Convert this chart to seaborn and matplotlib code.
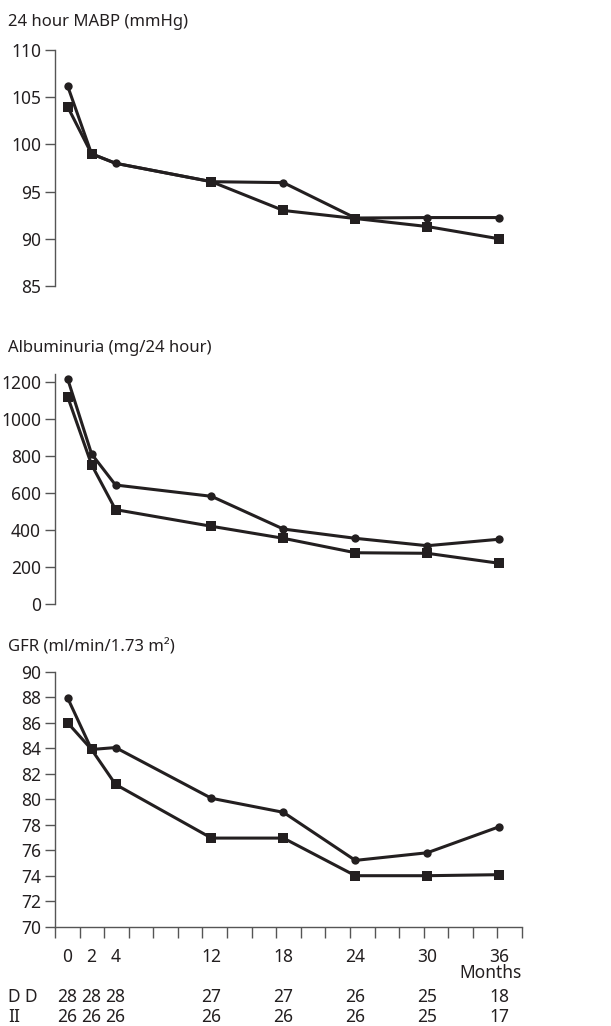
import pandas as pd
import seaborn as sns
from matplotlib import pyplot as plt
import numpy as np

sns.set_style("ticks")
plt.rcParams["font.family"] = ["Noto Sans", "DejaVu Sans"]

INK = "#231f20"

months = [0, 2, 4, 12, 18, 24, 30, 36]

# circles = DD, squares = II
mabp_dd = [106.2, 99.0, 98.0, 96.05, 95.95, 92.2, 92.25, 92.25]
mabp_ii = [104.0, 99.0, 98.0, 96.05, 93.0, 92.15, 91.3, 90.0]
alb_dd = [1218, 811, 643, 582, 405, 355, 315, 350]
alb_ii = [1121, 753, 510, 420, 355, 277, 274, 220]
gfr_dd = [87.95, 83.9, 84.05, 80.07, 78.97, 75.2, 75.8, 77.84]
gfr_ii = [86.0, 83.9, 81.16, 76.95, 76.95, 74.0, 74.0, 74.08]

n_dd = [28, 28, 28, 27, 27, 26, 25, 18]
n_ii = [26, 26, 26, 26, 26, 26, 25, 17]

titles = ["24 hour MABP (mmHg)", "Albuminuria (mg/24 hour)", "GFR (ml/min/1.73 m\u00b2)"]

def longform(dd, ii):
    rows = []
    for m, a, b in zip(months, dd, ii):
        rows.append((m, a, "DD"))
        rows.append((m, b, "II"))
    return pd.DataFrame(rows, columns=["month", "value", "grp"])

fig = plt.figure(figsize=(6.11, 10.26), dpi=100)
left, width = 55 / 611, 467 / 611
ax1 = fig.add_axes([left, 1 - 286 / 1026, width, 236 / 1026])
ax2 = fig.add_axes([left, 1 - 604 / 1026, width, 230 / 1026])
ax3 = fig.add_axes([left, 1 - 926.7 / 1026, width, 255 / 1026])

# in the MABP panel the II marker at month 4 is hidden under the DD one
all_idx = list(range(len(months)))
panels = [
    (ax1, longform(mabp_dd, mabp_ii), (85, 110), np.arange(85, 111, 5), [0, 1, 3, 4, 5, 6, 7]),
    (ax2, longform(alb_dd, alb_ii), (0, 1243), np.arange(0, 1201, 200), all_idx),
    (ax3, longform(gfr_dd, gfr_ii), (70, 90), np.arange(70, 91, 2), all_idx),
]

for ax, df, ylim, yt, ii_marks in panels:
    for g, mk, ms, every in [("II", "s", 7.5, ii_marks), ("DD", "o", 6, all_idx)]:
        sns.lineplot(data=df[df.grp == g], x="month", y="value", ax=ax,
                     color=INK, marker=mk, markersize=ms, linewidth=2.2,
                     markeredgewidth=0, markevery=every, estimator=None, legend=False)
    ax.set_xlim(-1.05, 37.9)
    ax.set_ylim(*ylim)
    ax.set_yticks(yt)
    ax.set_xlabel("")
    ax.set_ylabel("")
    ax.tick_params(axis="y", length=7, width=1, color="#555555", labelsize=12.5,
                   labelcolor=INK, pad=3)
    for s in ["top", "right"]:
        ax.spines[s].set_visible(False)
    ax.spines["left"].set_color("#555555")
    ax.spines["left"].set_linewidth(1)

for ax in [ax1, ax2]:
    ax.spines["bottom"].set_visible(False)
    ax.set_xticks([])

ax3.spines["bottom"].set_color("#555555")
ax3.spines["bottom"].set_linewidth(1)
ax3.set_xticks(months)
ax3.set_xticklabels([str(m) for m in months])
ax3.set_xticks(np.linspace(-1.05, 37.9, 20), minor=True)
ax3.tick_params(axis="x", which="major", length=0, labelsize=12.5, labelcolor=INK, pad=15)
ax3.tick_params(axis="x", which="minor", length=8, width=1, color="#555555")

tr = ax3.get_xaxis_transform()
ax3.text(37.9, -0.183, "Months", transform=tr, ha="right", va="center",
         fontsize=12.5, color=INK)
for m, a, b in zip(months, n_dd, n_ii):
    ax3.text(m, -0.276, str(a), transform=tr, ha="center", va="center", fontsize=12.5, color=INK)
    ax3.text(m, -0.354, str(b), transform=tr, ha="center", va="center", fontsize=12.5, color=INK)
fig.text(8 / 611, 1 - 997 / 1026, "D D", ha="left", va="center", fontsize=12.5, color=INK)
fig.text(8 / 611, 1 - 1017 / 1026, "II", ha="left", va="center", fontsize=12.5, color=INK)

for t, yp in zip(titles, [22, 348, 647]):
    fig.text(8 / 611, 1 - yp / 1026, t, ha="left", va="center", fontsize=12, color=INK)

plt.savefig("out.png", dpi=100)
